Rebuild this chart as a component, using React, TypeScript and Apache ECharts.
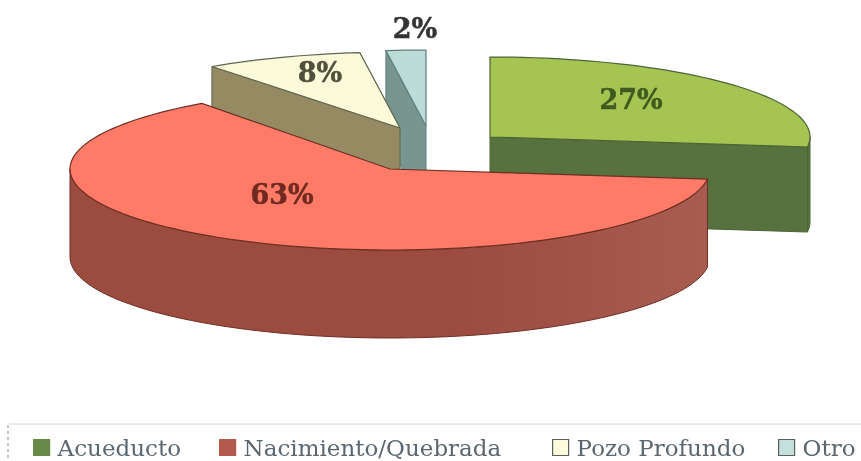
import React, { useEffect, useRef } from "react";
import * as echarts from "echarts";

const categories = ["Acueducto", "Nacimiento/Quebrada", "Pozo Profundo", "Otro"];
const values = [27, 63, 8, 2];
const centers = [[490, 137], [390, 169], [400, 128], [426, 126]];
const radiiY = [80, 81, 76, 76];
const depths = [85, 88, 88, 88];
const labelPos = [[631, 99], [282, 194], [320, 72], [415, 28]];
const topColors = ["#a6c452", "#ff7b68", "#fbfbd9", "#bcdcd8"];
const sideColors = ["#57723f", "#9c4b3f", "#968a63", "#78958f"];
const sideColorsEnd = ["#5a7444", "#a85c50", "#968a63", "#78958f"];
const edgeColors = ["#4c6436", "#6e2f25", "#5f6650", "#5f7f7c"];
const labelColors = ["#3f5a1f", "#6e2a20", "#4f4f3c", "#333333"];
const legendLeft = [33, 219, 552, 778];
const legendIcon = ["#688a48", "#b35a4e", "#fcfcdc", "#c4e0dc"];
const legendBorder = ["#688a48", "#b35a4e", "#5a5f5a", "#5a5f5a"];
const drawOrder = [3, 2, 0, 1];

const RX = 320;
const total = values.reduce((a, b) => a + b, 0);
const rad = (d: number) => (d * Math.PI) / 180;

function makeRender(idx: number) {
  const RY = radiiY[idx];
  const DEPTH = depths[idx];
  const pt = (c: number[], a: number, dy = 0) => [
    c[0] + RX * Math.sin(rad(a)),
    c[1] - RY * Math.cos(rad(a)) + dy,
  ];
  const arc = (c: number[], a0: number, a1: number, dy = 0) => {
    const out: number[][] = [];
    const n = Math.max(2, Math.ceil(Math.abs(a1 - a0) / 2));
    for (let i = 0; i <= n; i++) out.push(pt(c, a0 + ((a1 - a0) * i) / n, dy));
    return out;
  };
  return (_params: any, api: any) => {
    const value = api.value(0);
    const before = values.slice(0, idx).reduce((a, b) => a + b, 0);
    const a0 = (before / total) * 360;
    const a1 = a0 + (value / total) * 360;
    const c = centers[idx];
    const children: any[] = [];
    const side = { fill: sideColors[idx], stroke: edgeColors[idx], lineWidth: 1 };
    const face = (a: number) => {
      const o = pt(c, a);
      children.push({
        type: "polygon",
        shape: { points: [c, o, [o[0], o[1] + DEPTH], [c[0], c[1] + DEPTH]] },
        style: side,
      });
    };
    if (Math.sin(rad(a1)) > 0.001) face(a1);
    if (Math.sin(rad(a0)) < -0.001) face(a0);
    const w0 = Math.max(a0, 90), w1 = Math.min(a1, 270);
    if (w1 > w0) {
      children.push({
        type: "polygon",
        shape: { points: [...arc(c, w0, w1), ...arc(c, w1, w0, DEPTH)] },
        style: {
          ...side,
          fill: {
            type: "linear", x: 0, y: 0, x2: 1, y2: 0,
            colorStops: [
              { offset: 0, color: sideColors[idx] },
              { offset: 0.6, color: sideColors[idx] },
              { offset: 1, color: sideColorsEnd[idx] },
            ],
          },
        },
      });
    }
    children.push({
      type: "polygon",
      shape: { points: [c, ...arc(c, a0, a1)] },
      style: { fill: topColors[idx], stroke: edgeColors[idx], lineWidth: 1.2 },
    });
    children.push({
      type: "text",
      x: labelPos[idx][0],
      y: labelPos[idx][1],
      style: {
        text: `${value}%`,
        fill: labelColors[idx],
        stroke: labelColors[idx],
        lineWidth: 0.5,
        font: 'bold 27px "DejaVu Serif"',
        align: "center",
        verticalAlign: "middle",
      },
    });
    return { type: "group", children };
  };
}

export default function App() {
  const ref = useRef<HTMLDivElement>(null);
  useEffect(() => {
    const chart = echarts.init(ref.current!, null, { renderer: "svg" });
    chart.setOption({
      animation: false,
      backgroundColor: "#ffffff",
      legend: categories.map((name, i) => ({
        data: [{ name, itemStyle: { color: legendIcon[i], borderColor: legendBorder[i], borderWidth: 1.2 } }],
        left: legendLeft[i],
        top: 436,
        padding: 0,
        itemWidth: 16,
        itemHeight: 16,
        selectedMode: false,
        icon: "rect",
        textStyle: {
          fontFamily: '"DejaVu Serif"',
          fontSize: 23,
          color: "#5a6670",
          padding: [0, 0, 0, 3],
        },
      })),
      graphic: [
        { type: "line", shape: { x1: 9, y1: 424, x2: 861, y2: 424 }, style: { stroke: "#d4d4d4", lineWidth: 1 } },
        { type: "line", shape: { x1: 8, y1: 425, x2: 8, y2: 461 }, style: { stroke: "#8a8a8a", lineWidth: 1, lineDash: [3, 3] } },
      ],
      series: drawOrder.map((i) => ({
        type: "custom",
        name: categories[i],
        coordinateSystem: "none",
        itemStyle: { color: topColors[i] },
        renderItem: makeRender(i),
        data: [[values[i]]],
      })),
    });
    return () => chart.dispose();
  }, []);
  return <div ref={ref} style={{ position: "fixed", left: 0, top: 0, width: 861, height: 461, filter: "blur(0.5px)" }} />;
}
